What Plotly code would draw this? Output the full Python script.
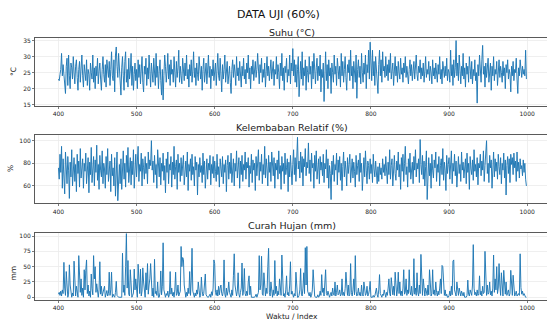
import plotly.graph_objects as go

index_start = 400

suhu = [
    23.0, 22.5, 24.5, 26.0, 31.0, 24.0, 27.5, 25.0, 22.0, 18.5, 27.0, 29.5, 21.0, 30.5, 24.0, 20.0, 28.0, 26.5, 23.0, 30.0,
    25.0, 21.5, 27.0, 29.0, 23.5, 19.5, 26.0, 28.5, 22.0, 25.5, 30.5, 24.0, 20.5, 27.5, 25.0, 22.5, 29.0, 21.0, 26.0, 24.5,
    19.5, 28.0, 25.0, 23.0, 30.5, 22.0, 26.5, 20.0, 27.0, 24.0, 29.5, 21.5, 25.5, 28.0, 23.0, 19.5, 26.0, 30.0, 24.5, 22.0,
    27.5, 20.5, 29.0, 25.0, 23.5, 28.5, 21.0, 26.0, 31.5, 24.0, 22.5, 29.0, 19.0, 30.5, 33.0, 27.0, 23.5, 31.0, 25.0, 21.0,
    18.0, 26.5, 30.0, 24.0, 19.5, 28.5, 31.5, 22.0, 26.0, 20.5, 29.5, 23.0, 25.5, 31.0, 21.0, 27.0, 19.5, 24.5, 28.0, 22.5,
    26.0, 20.0, 29.0, 23.5, 27.5, 21.5, 25.0, 30.0, 22.0, 19.0, 27.0, 24.5, 29.5, 21.0, 26.5, 23.0, 30.5, 25.0, 20.5, 28.0,
    24.0, 22.0, 29.5, 26.0, 21.0, 31.0, 23.5, 27.0, 20.0, 25.5, 29.0, 22.5, 18.0, 26.0, 16.5, 24.0, 30.5, 27.0, 22.0, 25.5,
    31.0, 23.0, 27.5, 21.0, 29.0, 24.5, 26.0, 22.0, 30.0, 25.0, 20.5, 28.5, 23.5, 26.5, 32.0, 22.0, 27.0, 24.0, 21.5, 29.5,
    25.0, 22.5, 28.0, 24.0, 30.5, 23.0, 26.0, 20.5, 27.5, 24.0, 29.0, 22.0, 25.5, 31.5, 23.5, 26.5, 21.0, 28.0, 24.5, 22.5,
    30.0, 25.5, 23.0, 27.0, 19.5, 26.0, 29.5, 22.0, 24.5, 28.0, 21.5, 25.0, 30.5, 23.5, 27.0, 20.0, 26.0, 24.0, 29.0, 22.5,
    25.5, 28.0, 21.0, 26.5, 31.0, 24.0, 22.5, 29.5, 25.0, 19.0, 27.5, 23.0, 26.0, 30.5, 22.0, 25.5, 28.5, 21.5, 24.0, 27.0,
    22.0, 18.5, 26.0, 29.0, 23.5, 27.5, 25.0, 21.0, 30.0, 24.0, 26.5, 22.5, 28.5, 25.0, 20.5, 27.0, 24.0, 29.5, 23.0, 26.0,
    21.5, 28.0, 25.0, 30.5, 23.0, 26.5, 20.0, 27.0, 24.5, 29.0, 22.5, 25.5, 28.5, 23.5, 26.0, 31.0, 24.0, 21.5, 27.5, 25.0,
    29.5, 22.0, 26.0, 23.5, 28.0, 20.5, 25.5, 30.0, 24.0, 27.0, 22.5, 26.5, 29.0, 23.0, 25.0, 28.5, 21.0, 26.0, 24.5, 30.0,
    23.0, 27.5, 25.0, 20.0, 28.0, 24.0, 31.0, 22.5, 26.5, 19.5, 27.0, 25.0, 29.5, 22.0, 26.0, 24.0, 30.5, 21.5, 28.0, 25.5,
    32.5, 24.0, 29.0, 22.0, 27.5, 20.5, 26.0, 30.0, 17.5, 25.0, 28.5, 23.0, 31.5, 21.0, 26.5, 24.0, 29.0, 19.5, 27.0, 25.0,
    22.0, 30.0, 24.5, 27.0, 20.0, 28.5, 23.0, 31.0, 25.5, 21.5, 26.5, 29.5, 22.5, 27.0, 24.0, 30.5, 19.0, 26.0, 23.5, 28.0,
    16.0, 25.0, 31.5, 22.5, 27.5, 20.0, 29.0, 24.0, 26.5, 18.5, 28.0, 25.0, 22.0, 30.5, 24.5, 27.0, 21.0, 29.5, 25.5, 23.0,
    27.0, 20.5, 31.0, 24.0, 28.5, 22.0, 26.0, 30.0, 23.5, 19.5, 27.5, 25.0, 29.0, 22.5, 32.0, 24.0, 27.0, 20.0, 28.5, 25.5,
    22.0, 30.5, 17.0, 26.0, 29.0, 23.5, 27.0, 21.5, 31.0, 25.0, 22.0, 28.0, 24.5, 30.5, 20.0, 27.5, 25.0, 32.0, 23.0, 34.5,
    26.0, 22.5, 32.0, 24.0, 28.5, 21.0, 30.0, 25.5, 23.0, 18.5, 27.5, 32.0, 24.0, 29.0, 22.0, 31.5, 25.5, 27.0, 23.5, 30.0,
    24.0, 27.5, 22.5, 29.0, 25.0, 31.0, 23.0, 26.5, 28.0, 21.0, 25.5, 30.0, 24.0, 27.0, 22.0, 28.5, 25.0, 23.0, 29.5, 24.5,
    26.5, 22.0, 28.0, 25.0, 30.0, 23.5, 27.0, 24.5, 21.5, 26.0, 29.0, 24.0, 27.5, 22.5, 25.5, 28.5, 23.0, 26.0, 30.5, 24.5,
    22.5, 27.0, 25.0, 29.0, 23.0, 26.5, 24.0, 28.0, 22.0, 25.5, 30.0, 23.5, 26.0, 24.5, 28.5, 22.5, 27.0, 25.0, 21.5, 29.0,
    24.0, 26.5, 23.0, 28.0, 25.5, 22.0, 27.5, 24.5, 30.0, 23.0, 26.0, 21.5, 28.5, 25.0, 23.5, 27.0, 24.0, 29.5, 22.5, 26.0,
    25.0, 22.0, 32.0, 24.0, 27.5, 21.0, 29.0, 23.5, 26.5, 35.0, 24.0, 28.0, 22.5, 30.5, 25.0, 21.5, 27.0, 24.0, 31.0, 23.0,
    26.5, 20.5, 28.0, 24.5, 27.0, 22.0, 30.0, 25.5, 23.0, 28.5, 21.5, 26.0, 24.0, 29.0, 22.5, 25.0, 15.5, 27.5, 24.0, 30.5,
    26.0, 22.0, 29.0, 33.5, 24.5, 27.0, 20.5, 28.0, 23.5, 26.5, 29.5, 22.0, 25.5, 28.0, 19.5, 27.0, 24.0, 30.0, 22.5, 26.0,
    24.5, 28.5, 21.0, 26.0, 29.0, 23.5, 27.0, 25.0, 22.0, 28.5, 24.0, 26.5, 20.0, 27.5, 25.0, 29.0, 23.0, 26.0, 24.5, 19.0,
    27.0, 24.0, 28.5, 22.5, 26.0, 25.0, 29.5, 23.0, 18.5, 26.5, 24.0, 29.0, 25.5, 23.5, 27.0, 24.5, 26.0, 24.0, 32.0, 23.0,
]

kelembaban = [
    76, 66, 88, 72, 95, 58, 84, 70, 53, 90, 78, 62, 86, 74, 49, 81, 68, 92, 60, 77,
    85, 64, 79, 55, 88, 71, 82, 59, 93, 67, 76, 84, 58, 80, 73, 89, 62, 78, 85, 54,
    81, 70, 94, 63, 77, 86, 60, 83, 72, 96, 65, 79, 57, 87, 74, 68, 91, 62, 80, 75,
    58, 86, 70, 93, 64, 78, 82, 55, 88, 69, 76, 60, 85, 51, 73, 90, 47, 66, 79, 62,
    84, 57, 75, 91, 66, 80, 59, 87, 72, 94, 63, 78, 85, 61, 82, 70, 92, 58, 77, 88,
    68, 81, 95, 64, 79, 73, 89, 60, 84, 76, 66, 86, 71, 80, 62, 90, 75, 83, 78, 100,
    74, 82, 63, 87, 70, 79, 58, 92, 76, 68, 85, 61, 80, 73, 89, 65, 78, 54, 84, 72,
    90, 62, 79, 74, 86, 59, 81, 70, 95, 66, 77, 83, 57, 88, 72, 80, 64, 85, 69, 78,
    87, 61, 75, 82, 68, 90, 56, 79, 73, 84, 65, 88, 70, 77, 60, 86, 74, 81, 52, 79,
    68, 85, 72, 78, 63, 89, 70, 82, 58, 76, 84, 66, 80, 74, 87, 61, 79, 71, 86, 67,
    82, 73, 64, 88, 70, 77, 59, 84, 75, 68, 86, 62, 79, 72, 83, 55, 78, 87, 66, 81,
    71, 89, 63, 76, 84, 60, 80, 73, 91, 67, 78, 85, 58, 82, 70, 87, 64, 79, 74, 90,
    66, 81, 76, 85, 59, 78, 71, 88, 63, 83, 74, 80, 56, 86, 69, 77, 92, 65, 81, 73,
    88, 62, 79, 70, 95, 67, 84, 75, 60, 87, 72, 81, 64, 90, 76, 69, 85, 58, 80, 74,
    83, 66, 91, 71, 78, 57, 86, 73, 80, 62, 89, 70, 76, 84, 55, 81, 68, 87, 74, 61,
    79, 92, 70, 85, 64, 88, 103, 75, 82, 67, 90, 72, 86, 60, 84, 77, 93, 69, 81, 76,
    98, 71, 83, 64, 89, 76, 80, 58, 87, 73, 91, 66, 79, 84, 62, 86, 74, 81, 69, 88,
    63, 80, 75, 92, 67, 84, 58, 78, 71, 48, 82, 70, 87, 64, 79, 74, 89, 61, 83, 72,
    86, 65, 80, 56, 77, 90, 68, 82, 74, 60, 85, 71, 79, 88, 63, 76, 84, 67, 81, 73,
    59, 87, 70, 78, 83, 64, 89, 72, 80, 56, 76, 85, 68, 91, 74, 62, 82, 78, 66, 84,
    71, 79, 63, 88, 75, 68, 82, 73, 62, 77, 64, 80, 70, 76, 66, 84, 72, 79, 69, 86,
    74, 62, 81, 70, 92, 66, 78, 84, 60, 76, 87, 71, 65, 82, 74, 90, 68, 79, 57, 85,
    73, 88, 64, 80, 95, 70, 77, 59, 84, 72, 89, 66, 78, 81, 62, 86, 74, 92, 68, 80,
    75, 84, 63, 101, 79, 70, 87, 66, 82, 60, 77, 91, 48, 73, 85, 69, 80, 58, 88, 74,
    67, 83, 76, 90, 64, 79, 72, 86, 60, 78, 84, 70, 93, 65, 81, 74, 56, 87, 71, 79,
    85, 66, 77, 91, 62, 80, 73, 88, 69, 82, 59, 76, 86, 71, 79, 64, 90, 74, 81, 67,
    78, 84, 62, 89, 72, 80, 57, 86, 75, 70, 83, 65, 92, 73, 79, 68, 85, 61, 80, 76,
    88, 69, 82, 74, 91, 64, 78, 86, 100, 71, 80, 63, 87, 76, 83, 58, 79, 90, 68, 84,
    73, 81, 66, 88, 77, 70, 85, 62, 80, 74, 89, 67, 83, 52, 78, 86, 71, 84, 63, 88,
    79, 85, 70, 89, 76, 82, 64, 90, 73, 81, 67, 84, 75, 78, 69, 83, 72, 80, 66, 60,
]

curah_hujan = [
    5, 8, 3, 10, 2, 12, 6, 57, 15, 3, 42, 8, 0, 5, 53, 20, 4, 0, 7, 2,
    59, 10, 2, 18, 5, 0, 68, 22, 8, 30, 3, 15, 0, 45, 12, 44, 61, 6, 20, 2,
    10, 0, 38, 14, 4, 68, 30, 50, 8, 22, 3, 0, 12, 58, 5, 18, 2, 9, 15, 18,
    0, 4, 11, 2, 6, 41, 3, 12, 41, 0, 5, 2, 0, 8, 26, 3, 0, 0, 0, 0,
    0, 0, 72, 8, 20, 3, 50, 104, 15, 60, 5, 2, 45, 10, 0, 3, 7, 46, 12, 30,
    4, 0, 54, 18, 6, 46, 2, 10, 48, 25, 3, 0, 40, 12, 55, 5, 20, 30, 55, 8,
    2, 15, 0, 62, 6, 10, 3, 25, 0, 0, 8, 43, 4, 18, 89, 12, 2, 0, 6, 3,
    10, 0, 4, 42, 5, 15, 2, 8, 0, 12, 41, 3, 6, 20, 2, 5, 10, 83, 50, 65,
    62, 20, 4, 0, 8, 2, 15, 6, 42, 3, 28, 80, 10, 4, 0, 7, 2, 12, 5, 25,
    8, 0, 3, 33, 10, 2, 6, 18, 38, 4, 0, 0, 0, 2, 5, 0, 9, 3, 15, 61,
    55, 8, 3, 12, 2, 18, 4, 15, 20, 6, 2, 10, 61, 5, 0, 15, 3, 10, 25, 8,
    4, 0, 12, 3, 35, 71, 20, 6, 2, 10, 40, 5, 0, 8, 15, 56, 3, 12, 47, 6,
    2, 10, 3, 25, 35, 4, 18, 0, 0, 0, 0, 0, 2, 5, 0, 3, 8, 68, 12, 20,
    67, 5, 3, 40, 10, 2, 15, 6, 50, 80, 8, 2, 25, 4, 0, 12, 3, 60, 6, 18,
    2, 10, 4, 30, 8, 3, 69, 15, 2, 6, 0, 12, 35, 4, 8, 2, 20, 58, 5, 10,
    3, 0, 6, 2, 41, 8, 0, 0, 3, 12, 47, 5, 2, 15, 40, 6, 81, 20, 83, 10,
    5, 2, 8, 0, 3, 12, 45, 6, 2, 0, 0, 0, 4, 0, 2, 10, 3, 37, 8, 15,
    2, 30, 45, 6, 3, 10, 2, 0, 4, 8, 2, 15, 5, 3, 25, 2, 8, 20, 4, 6,
    12, 2, 5, 30, 3, 8, 2, 14, 41, 6, 3, 20, 2, 5, 55, 8, 2, 12, 30, 4,
    68, 10, 2, 6, 15, 3, 8, 2, 20, 5, 2, 25, 10, 3, 6, 18, 2, 5, 12, 26,
    0, 0, 0, 3, 0, 2, 8, 15, 4, 0, 12, 37, 6, 2, 0, 5, 3, 12, 2, 0,
    8, 3, 15, 30, 6, 2, 32, 10, 4, 18, 3, 41, 8, 2, 12, 41, 6, 25, 3, 10,
    2, 15, 45, 5, 8, 30, 3, 12, 6, 45, 10, 4, 18, 2, 8, 63, 5, 15, 3, 40,
    8, 2, 20, 6, 70, 12, 3, 30, 5, 2, 15, 8, 3, 20, 4, 45, 10, 2, 6, 45,
    5, 12, 3, 25, 8, 2, 10, 4, 15, 30, 6, 52, 50, 8, 3, 12, 2, 5, 0, 0,
    3, 10, 2, 18, 4, 59, 61, 12, 6, 2, 25, 8, 3, 15, 5, 2, 10, 4, 2, 8,
    0, 0, 0, 3, 28, 5, 2, 12, 6, 3, 20, 86, 15, 4, 8, 2, 12, 3, 6, 35,
    4, 10, 2, 18, 6, 8, 75, 12, 3, 20, 5, 8, 25, 4, 10, 2, 15, 69, 8, 30,
    12, 50, 6, 15, 55, 20, 3, 40, 8, 2, 44, 10, 5, 25, 3, 8, 12, 2, 6, 44,
    15, 3, 36, 8, 2, 5, 10, 2, 4, 6, 3, 71, 16, 5, 10, 3, 6, 2, 0, 0,
]

x_index = list(range(index_start, index_start + len(suhu)))

x_ticks = [400, 500, 600, 700, 800, 900, 1000]
suhu_ticks = [15, 20, 25, 30, 35]
kelembaban_ticks = [60, 80, 100]
hujan_ticks = [0, 25, 50, 75, 100]

suptitle = "DATA UJI (60%)"
titles = ["Suhu (°C)", "Kelembaban Relatif (%)", "Curah Hujan (mm)"]
ylabels = ["°C", "%", "mm"]
xlabel = "Waktu / Index"

LINE = "#1f77b4"
GRID = "#ebebeb"
SPINE = "#5a5a5a"
TXT = "#262626"
FONT = "DejaVu Sans, Verdana, sans-serif"

W, H = 547, 323
ML, MR, MT, MB = 34.5, 0, 38, 23
PW = W - ML - MR
PH = H - MT - MB

def py(px):
    return (H - MB - px) / PH

def pxx(px):
    return (px - ML) / PW

fig = go.Figure()
series = [suhu, kelembaban, curah_hujan]
for i, s in enumerate(series):
    fig.add_trace(go.Scatter(
        x=x_index, y=s, mode="lines",
        line=dict(color=LINE, width=0.95),
        xaxis="x" if i == 0 else f"x{i+1}",
        yaxis="y" if i == 0 else f"y{i+1}",
        showlegend=False, hoverinfo="skip",
    ))

domains = [(py(106), py(38)), (py(203.3), py(135)), (py(300), py(232.7))]
yranges = [[14.6, 35.8], [44.7, 105], [-4.5, 105.5]]
yticks = [suhu_ticks, kelembaban_ticks, hujan_ticks]
xrange_ = [370, 370 + PW / 0.782]

layout = dict(
    width=W, height=H,
    margin=dict(l=ML, r=MR, t=MT, b=MB, pad=0),
    paper_bgcolor="white", plot_bgcolor="white",
    font=dict(family=FONT, color=TXT),
    showlegend=False,
)

for i in range(3):
    xa = "xaxis" if i == 0 else f"xaxis{i+1}"
    ya = "yaxis" if i == 0 else f"yaxis{i+1}"
    yid = "y" if i == 0 else f"y{i+1}"
    xid = "x" if i == 0 else f"x{i+1}"
    layout[xa] = dict(
        domain=[0, 1], anchor=yid, range=xrange_,
        tickvals=x_ticks, ticktext=[str(t) for t in x_ticks],
        showgrid=True, gridcolor=GRID, gridwidth=0.8,
        zeroline=False, showline=True, linecolor=SPINE, linewidth=1, mirror=True,
        ticks="outside", ticklen=2, tickwidth=0.8, tickcolor=SPINE,
        tickfont=dict(size=6, color=TXT, family=FONT),
    )
    layout[ya] = dict(
        domain=list(domains[i]), anchor=xid, range=yranges[i],
        tickvals=yticks[i], ticktext=[str(t) for t in yticks[i]],
        showgrid=True, gridcolor=GRID, gridwidth=0.8,
        zeroline=False, showline=True, linecolor=SPINE, linewidth=1, mirror=False,
        ticks="outside", ticklen=2, tickwidth=0.8, tickcolor=SPINE,
        tickfont=dict(size=6, color=TXT, family=FONT),
    )

fig.update_layout(**layout)

annotations = [
    dict(text=suptitle, x=pxx(278), y=py(14), xref="paper", yref="paper",
         showarrow=False, xanchor="center", yanchor="middle",
         font=dict(size=11, color="#111111", family=FONT)),
]
title_y = [32, 127.5, 225]
for t, ty in zip(titles, title_y):
    annotations.append(dict(text=t, x=pxx(292), y=py(ty), xref="paper", yref="paper",
                            showarrow=False, xanchor="center", yanchor="middle",
                            font=dict(size=9.5, color="#222222", family=FONT)))
label_pos = [(12.5, 72), (9.5, 169), (12, 273)]
for t, (lx, ly) in zip(ylabels, label_pos):
    annotations.append(dict(text=t, x=pxx(lx), y=py(ly), xref="paper", yref="paper",
                            showarrow=False, xanchor="center", yanchor="middle", textangle=-90,
                            font=dict(size=7.5, color=TXT, family=FONT)))
annotations.append(dict(text=xlabel, x=pxx(292), y=py(316), xref="paper", yref="paper",
                        showarrow=False, xanchor="center", yanchor="middle",
                        font=dict(size=7.5, color=TXT, family=FONT)))
fig.update_layout(annotations=annotations)

fig.write_html(
    "out.html",
    config={"displayModeBar": False, "staticPlot": True},
    post_script="document.body.style.margin='0';document.body.style.overflow='hidden';",
)
